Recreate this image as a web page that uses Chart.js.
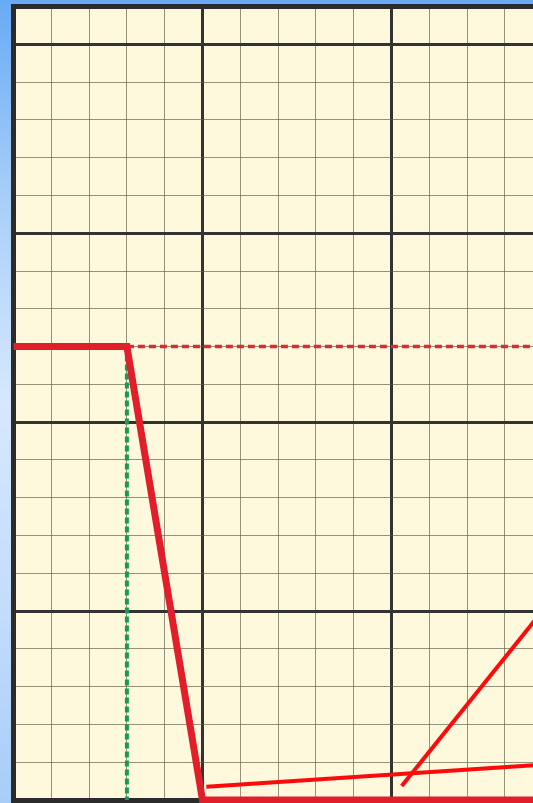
<!DOCTYPE html>
<html>
<head>
<meta charset="utf-8">
<title>Graph paper profile</title>
<script src="https://cdn.jsdelivr.net/npm/chart.js@4.4.1/dist/chart.umd.min.js"></script>
<style>
    html, body {
        margin: 0;
        padding: 0;
        width: 533px;
        height: 803px;
        overflow: hidden;
        background: linear-gradient(to bottom, #68aaf5 0%, #a9cff8 25%, #d6e8fc 50%, #c4ddfa 75%, #a8cdf8 100%);
    }
    #wrap {
        position: absolute;
        left: 0;
        top: 0;
        width: 800px;
        height: 803px;
    }
</style>
</head>
<body>
<div id="wrap"><canvas id="paper"></canvas></div>
<script>
    // Grid extents (in grid squares)
    const X_MAX = 20;
    const Y_MAX = 21;
    const MAJOR_EVERY = 5;

    // Thick profile: flat, steep drop, then flat along the floor
    const profileX = [0, 3, 5, 20];
    const profileY = [12, 12, 0, 0];

    // Dotted level carried on from the corner
    const levelX = [3, 20];
    const levelY = [12, 12];

    // Dashed drop marker under the corner
    const markerX = [3, 3];
    const markerY = [12, 0];

    // Thin red lines near the floor
    const lowLineX = [5.1, 20];
    const lowLineY = [0.35, 1.33];
    const riseLineX = [10.27, 16];
    const riseLineY = [0.37, 7.5];

    function toPoints(xs, ys) {
        return xs.map((x, i) => ({ x: x, y: ys[i] }));
    }

    const PAPER = '#fef9dc';
    const MAJOR_COLOR = '#333333';
    const MINOR_COLOR = 'rgba(90, 90, 70, 0.65)';
    const FRAME_COLOR = '#2b2b2b';

    // Fill the plotting area like a sheet of graph paper
    const paperFill = {
        id: 'paperFill',
        beforeDraw(chart) {
            const { ctx, chartArea } = chart;
            ctx.save();
            ctx.fillStyle = PAPER;
            ctx.fillRect(chartArea.left, chartArea.top, chartArea.right - chartArea.left, chartArea.bottom - chartArea.top);
            ctx.restore();
        }
    };

    function gridColor(max) {
        return function(c) {
            const v = c.tick ? c.tick.value : 0;
            if (v === max) return FRAME_COLOR;
            return v % MAJOR_EVERY === 0 ? MAJOR_COLOR : MINOR_COLOR;
        };
    }

    function gridWidth(max) {
        return function(c) {
            const v = c.tick ? c.tick.value : 0;
            if (v === max) return 5;
            return v % MAJOR_EVERY === 0 ? 3 : 1;
        };
    }

    const lineBase = {
        pointRadius: 0,
        pointHoverRadius: 0,
        tension: 0,
        fill: false,
        clip: false,
        borderCapStyle: 'butt',
        borderJoinStyle: 'miter'
    };

    new Chart(document.getElementById('paper'), {
        type: 'line',
        data: {
            datasets: [
                Object.assign({}, lineBase, {
                    label: 'rise',
                    data: toPoints(riseLineX, riseLineY),
                    borderColor: '#ff0a0a',
                    borderWidth: 4,
                    order: 5
                }),
                Object.assign({}, lineBase, {
                    label: 'low',
                    data: toPoints(lowLineX, lowLineY),
                    borderColor: '#ff0a0a',
                    borderWidth: 4,
                    order: 4
                }),
                Object.assign({}, lineBase, {
                    label: 'level',
                    data: toPoints(levelX, levelY),
                    borderColor: '#dc2a36',
                    borderWidth: 3.5,
                    borderDash: [7, 4],
                    order: 3
                }),
                Object.assign({}, lineBase, {
                    label: 'marker',
                    data: toPoints(markerX, markerY),
                    borderColor: '#179c4e',
                    borderWidth: 4,
                    borderDash: [6, 3],
                    order: 2
                }),
                Object.assign({}, lineBase, {
                    label: 'profile',
                    data: toPoints(profileX, profileY),
                    borderColor: '#e01f2b',
                    borderWidth: 7,
                    order: 1
                })
            ]
        },
        plugins: [paperFill],
        options: {
            responsive: true,
            maintainAspectRatio: false,
            animation: false,
            events: [],
            layout: {
                padding: { left: 13.5, top: 6.5, right: 30.5, bottom: 3 }
            },
            plugins: {
                legend: { display: false },
                tooltip: { enabled: false }
            },
            scales: {
                x: {
                    type: 'linear',
                    min: 0,
                    max: X_MAX,
                    ticks: { display: false, stepSize: 1 },
                    grid: {
                        drawTicks: false,
                        tickLength: 0,
                        color: gridColor(X_MAX),
                        lineWidth: gridWidth(X_MAX)
                    },
                    border: { display: true, color: FRAME_COLOR, width: 5 }
                },
                y: {
                    type: 'linear',
                    min: 0,
                    max: Y_MAX,
                    ticks: { display: false, stepSize: 1 },
                    grid: {
                        drawTicks: false,
                        tickLength: 0,
                        color: gridColor(Y_MAX),
                        lineWidth: gridWidth(Y_MAX)
                    },
                    border: { display: true, color: FRAME_COLOR, width: 5 }
                }
            }
        }
    });
</script>
</body>
</html>
